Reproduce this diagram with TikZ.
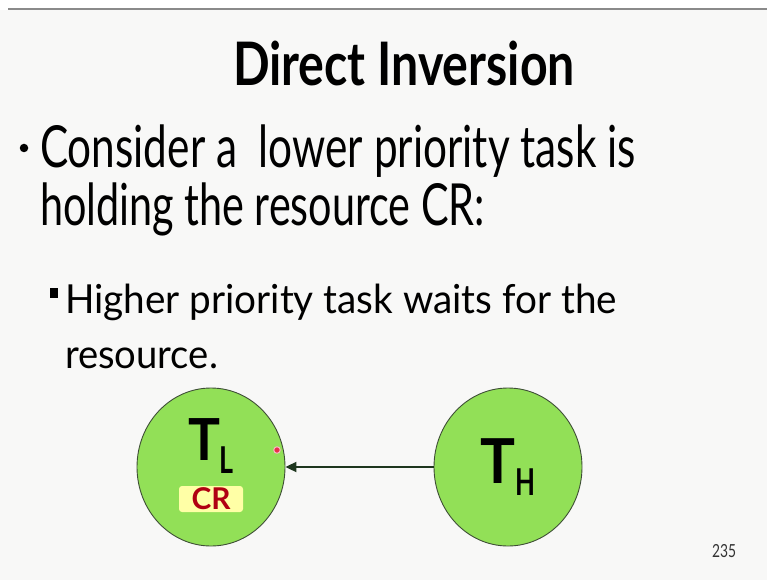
\documentclass[tikz,border=0pt]{standalone}
\usepackage{fontspec}
\usepackage{graphicx}
\setmainfont{Lato}
\usetikzlibrary{arrows.meta,shapes.geometric}
\definecolor{bg}{HTML}{F8F8F7}
\definecolor{rulegray}{HTML}{8A8A8A}
\definecolor{nodegreen}{HTML}{92E057}
\definecolor{edgec}{HTML}{3E4E36}
\definecolor{arrowc}{HTML}{1E361E}
\definecolor{crfill}{HTML}{FFFFA6}
\definecolor{crtext}{HTML}{B00012}
\definecolor{dotred}{HTML}{E8304A}
\definecolor{pagegray}{HTML}{333333}
\newcommand{\fitw}[2]{\resizebox{#1}{\height}{#2}}
\begin{document}
\begin{tikzpicture}[x=1pt,y=-1pt,
  txt/.style={anchor=base west, inner sep=0pt, outer sep=0pt, text=black},
  task/.style={ellipse, draw=edgec, line width=0.9pt, fill=nodegreen,
               minimum width=148pt, minimum height=158pt, inner sep=0pt},
  tbig/.style={anchor=base west, inner sep=0pt, font=\fontsize{58}{58}\selectfont\bfseries},
  tsub/.style={anchor=base west, inner sep=0pt, font=\fontsize{37}{37}\selectfont\bfseries},
  crbox/.style={rectangle, rounded corners=3pt, fill=crfill, minimum width=64pt,
                minimum height=26pt, inner sep=0pt, text=crtext,
                font=\fontsize{30}{30}\selectfont\bfseries},
  waits/.style={-{Triangle[length=11pt,width=10pt]}, draw=arrowc, line width=2pt}]
\useasboundingbox (0,0) rectangle (767,580);
\fill[white] (0,0) rectangle (767,580);
\fill[bg] (0,10) rectangle (767,580);
\draw[rulegray, line width=1.5pt] (8,9) -- (767,9);

% title
\node[txt, font=\fontsize{60}{60}\selectfont\bfseries] (title) at (233,86)
  {\fitw{342pt}{Direct Inversion}};

% bullets
\node[circle, fill=black, inner sep=0pt, minimum size=8.5pt] (b1) at (24,148) {};
\node[txt, font=\fontsize{58}{58}\selectfont] (l1) at (40,167)
  {\fitw{596pt}{Consider a~ lower priority task is}};
\node[txt, font=\fontsize{58}{58}\selectfont] (l2) at (40,225)
  {\fitw{445pt}{holding the resource CR:}};

\node[rectangle, fill=black, inner sep=0pt, minimum width=8.5pt, minimum height=10pt] (b2) at (54,293) {};
\node[txt, font=\fontsize{40}{40}\selectfont] (s1) at (65,313)
  {\fitw{552pt}{Higher priority task waits for the}};
\node[txt, font=\fontsize{40}{40}\selectfont] (s2) at (65,368)
  {\fitw{153pt}{resource.}};

% task nodes
\node[task] (TL) at (211,467) {};
\node[task] (TH) at (508,467) {};
\draw[waits] (TH.west) -- (TL.east);

\node[tbig] (TLt) at (188,460) {\fitw{32pt}{T}};
\node[tsub] (TLl) at (219,473) {\fitw{14pt}{L}};
\node[crbox] (CR) at (211,499) {\fitw{39pt}{CR}};

\node[tbig, font=\fontsize{62}{62}\selectfont\bfseries] (THt) at (480,483) {\fitw{35pt}{T}};
\node[tsub] (THh) at (515,495) {\fitw{20pt}{H}};

% pointer dot
\node[circle, fill=dotred, draw=dotred!35, line width=1pt, inner sep=0pt, minimum size=6.5pt] (dot) at (277,450) {};

% page number
\node[anchor=base west, inner sep=0pt, text=pagegray, font=\fontsize{18}{18}\selectfont] (page) at (712,557)
  {\fitw{24pt}{235}};
\end{tikzpicture}
\end{document}
